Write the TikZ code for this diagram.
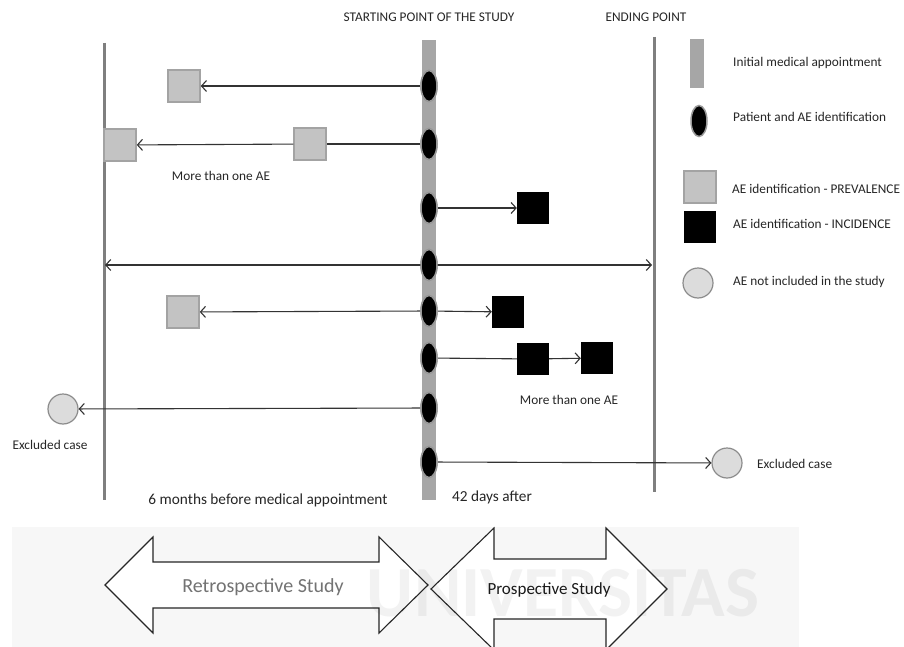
\documentclass[tikz,border=0pt]{standalone}
\usepackage{fontspec}
\setmainfont{Carlito}
\usetikzlibrary{shapes.geometric,arrows.meta}
\definecolor{barg}{HTML}{A6A6A6}
\definecolor{lineg}{HTML}{7F7F7F}
\definecolor{sqfill}{HTML}{C3C3C3}
\definecolor{sqdraw}{HTML}{A3A3A3}
\definecolor{cfill}{HTML}{DCDCDC}
\definecolor{cdraw}{HTML}{8C8C8C}
\definecolor{arr}{HTML}{333333}
\tikzset{
  x=1pt, y=-1pt,
  pt/.style={ellipse, fill=black, draw=gray!80, line width=1.5pt, minimum width=16pt, minimum height=31pt, inner sep=0pt},
  prev/.style={rectangle, fill=sqfill, draw=sqdraw, line width=1.5pt, minimum size=32pt, inner sep=0pt},
  inc/.style={rectangle, fill=black, minimum size=32pt, inner sep=0pt},
  excl/.style={circle, fill=cfill, draw=cdraw, line width=1.2pt, minimum size=30pt, inner sep=0pt},
  conn/.style={draw=arr, line width=1.1pt},
  tip/.style={conn, -{Straight Barb[length=5pt,width=11pt,line width=1.1pt]}},
  dtip/.style={conn, {Straight Barb[length=5pt,width=11pt,line width=1.1pt]}-{Straight Barb[length=5pt,width=11pt,line width=1.1pt]}},
  lbl/.style={font=\fontsize{13.3}{15}\selectfont, text=black!85, inner sep=0pt},
  leg/.style={font=\fontsize{13.3}{15}\selectfont, text=black!85, inner sep=0pt, anchor=west},
  big/.style={font=\fontsize{15.3}{17}\selectfont, text=black!85, inner sep=0pt},
  bigarrow/.style={draw=black!85, line width=1.1pt, fill=white, line join=miter}
}
\begin{document}
\begin{tikzpicture}
\useasboundingbox (0,0) rectangle (904,647);
\clip (0,0) rectangle (904,647);
\fill[white] (0,0) rectangle (904,647);
% faint band behind the study arrows
\fill[black!3] (12,527) rectangle (799,647);

% titles
\node[lbl] (tstart) at (429,17) {STARTING POINT OF THE STUDY};
\node[lbl] (tend) at (646,17) {ENDING POINT};

% vertical lines
\draw[lineg, line width=3pt] (104,43) -- (104,500);
\draw[lineg, line width=3pt] (654,37) -- (654,492);
\fill[barg] (422,40) rectangle (436,500);

% left/right line coordinates
\coordinate (L4) at (105,265);
\coordinate (R4) at (652,265);

% patient ellipses
\foreach \i/\y in {1/86,2/144,3/208,4/265,5/311,6/358,7/408,8/462}
  \node[pt] (e\i) at (429,\y) {};

% AE squares and circles
\node[prev] (p1) at (184,86) {};
\node[prev] (p2a) at (120,145) {};
\node[prev] (p2b) at (310,144) {};
\node[inc] (i3) at (533,208) {};
\node[prev] (p5) at (183,312) {};
\node[inc] (i5) at (508,312) {};
\node[inc] (i6a) at (533,359) {};
\node[inc] (i6b) at (597,358) {};
\node[excl] (c7) at (63,409) {};
\node[excl] (c8) at (727,463) {};

% connectors
\draw[tip] (e1) -- (p1);
\draw[conn] (e2) -- (p2b);
\draw[tip] (p2b) -- (p2a);
\draw[tip] (e3) -- (i3);
\draw[dtip] (L4) -- (R4);
\draw[tip] (e5) -- (p5);
\draw[tip] (e5) -- (i5);
\draw[conn] (e6) -- (i6a);
\draw[tip] (i6a) -- (i6b);
\draw[tip] (e7) -- (c7);
\draw[tip] (e8) -- (c8);
% ellipses on top of the connectors
\foreach \i/\y in {1/86,2/144,3/208,4/265,5/311,6/358,7/408,8/462}
  \node[pt] at (429,\y) {};

% labels
\node[lbl] (m1) at (221,176) {More than one AE};
\node[lbl] (m2) at (569,400) {More than one AE};
\node[lbl] (x1) at (50,445) {Excluded case};
\node[lbl, anchor=west] (x2) at (757,464) {Excluded case};
\node[big] (six) at (268,500) {6 months before medical appointment};
\node[big] (fortytwo) at (492,497) {42 days after};

% legend
\fill[barg] (690,39) rectangle (704,88);
\node[leg] (l1) at (733,63) {Initial medical appointment};
\node[pt] (l2s) at (699,121) {};
\node[leg] (l2) at (733,117) {Patient and AE identification};
\node[prev] (l3s) at (700,187) {};
\node[leg] (l3) at (732,189) {AE identification - PREVALENCE};
\node[inc] (l4s) at (700,227) {};
\node[leg] (l4) at (733,224) {AE identification - INCIDENCE};
\node[excl] (l5s) at (698,283) {};
\node[leg] (l5) at (733,282) {AE not included in the study};

% study arrows
\draw[bigarrow] (105,585) -- (153,537) -- (153,562) -- (379,562) -- (379,537) -- (428,585) -- (379,633) -- (379,608) -- (153,608) -- (153,633) -- cycle;
\draw[bigarrow] (431,589) -- (494,528) -- (494,559) -- (606,559) -- (606,528) -- (667,589) -- (606,650) -- (606,619) -- (494,619) -- (494,650) -- cycle;
% faint watermark over the arrows
\node[font=\fontsize{72}{72}\selectfont\bfseries, text=black, opacity=0.05, inner sep=0pt] (wm) at (563,593) {UNIVERSITAS};
\node[font=\fontsize{20}{22}\selectfont, text=black!55, inner sep=0pt] (retro) at (263,587) {Retrospective Study};
\node[font=\fontsize{17}{19}\selectfont, text=black!90, inner sep=0pt] (pros) at (549,590) {Prospective Study};
\end{tikzpicture}
\end{document}
